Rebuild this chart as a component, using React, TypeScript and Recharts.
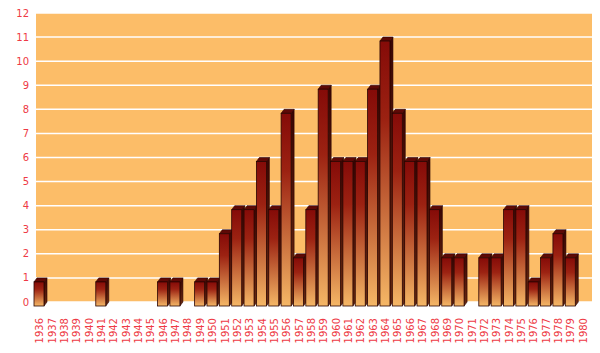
import { BarChart, Bar, XAxis, YAxis, CartesianGrid } from "recharts";

const years = [
  "1936", "1937", "1938", "1939", "1940", "1941", "1942", "1943", "1944", "1945",
  "1946", "1947", "1948", "1949", "1950", "1951", "1952", "1953", "1954", "1955",
  "1956", "1957", "1958", "1959", "1960", "1961", "1962", "1963", "1964", "1965",
  "1966", "1967", "1968", "1969", "1970", "1971", "1972", "1973", "1974", "1975",
  "1976", "1977", "1978", "1979", "1980",
];

const counts = [
  1, 0, 0, 0, 0, 1, 0, 0, 0, 0,
  1, 1, 0, 1, 1, 3, 4, 4, 6, 4,
  8, 2, 4, 9, 6, 6, 6, 9, 11, 8,
  6, 6, 4, 2, 2, 0, 2, 2, 4, 4,
  1, 2, 3, 2, 0,
];

const yTicks = [0, 1, 2, 3, 4, 5, 6, 7, 8, 9, 10, 11, 12];

const data = years.map((year, i) => ({ year, count: counts[i] }));

const LABEL = "#ee3a45";
const DX = 3;
const DY = 4;

const Bar3D = (props: any) => {
  const { x, y, width, height, value } = props;
  if (!value || height <= 0) return null;
  const fx = x - DX;
  const fy = y + DY;
  const top = `${fx},${fy} ${x},${y} ${x + width},${y} ${fx + width},${fy}`;
  const side = `${fx + width},${fy} ${x + width},${y} ${x + width},${y + height} ${fx + width},${fy + height}`;
  return (
    <g>
      <polygon points={side} fill="url(#sideGrad)" stroke="#2a0402" strokeWidth={0.6} />
      <polygon points={top} fill="#5e0906" stroke="#2a0402" strokeWidth={0.6} />
      <rect x={fx} y={fy} width={width} height={height} fill="url(#frontGrad)" stroke="#2a0402" strokeWidth={0.8} />
    </g>
  );
};

const XTick = (props: any) => {
  const { x, y, payload } = props;
  const tx = x + 1;
  const ty = y + 8;
  return (
    <text
      x={tx}
      y={ty}
      transform={`rotate(-90, ${tx}, ${ty})`}
      textAnchor="end"
      fill={LABEL}
      fontSize={10}
      fontFamily="DejaVu Sans, sans-serif"
    >
      {payload.value}
    </text>
  );
};

const App = () => {
  return (
    <div style={{ width: 600, height: 353 }}>
      <style>{`body{margin:0}`}</style>
      <BarChart
        width={600}
        height={353}
        data={data}
        margin={{ top: 13, right: 8, left: 0, bottom: 0 }}
      >
        <defs>
          <linearGradient id="frontGrad" x1="0" y1="0" x2="0" y2="1">
            <stop offset="0%" stopColor="#850b08" />
            <stop offset="30%" stopColor="#9c2212" />
            <stop offset="100%" stopColor="#f5b766" />
          </linearGradient>
          <linearGradient id="sideGrad" x1="0" y1="0" x2="0" y2="1">
            <stop offset="0%" stopColor="#3a0503" />
            <stop offset="100%" stopColor="#6a2a10" />
          </linearGradient>
        </defs>
        <CartesianGrid
          vertical={false}
          stroke="#ffffff"
          strokeWidth={1.5}
          fill="#fcbd68"
          fillOpacity={1}
        />
        <XAxis
          dataKey="year"
          interval={0}
          axisLine={false}
          tickLine={false}
          height={51}
          tick={<XTick />}
        />
        <YAxis
          domain={[0, 12]}
          ticks={yTicks}
          interval={0}
          axisLine={false}
          tickLine={false}
          tickSize={0}
          tickMargin={7}
          width={36}
          tick={{ fill: LABEL, fontSize: 10, fontFamily: "DejaVu Sans, sans-serif" }}
        />
        <Bar dataKey="count" barSize={10} shape={<Bar3D />} isAnimationActive={false} />
      </BarChart>
    </div>
  );
};

export default App;
